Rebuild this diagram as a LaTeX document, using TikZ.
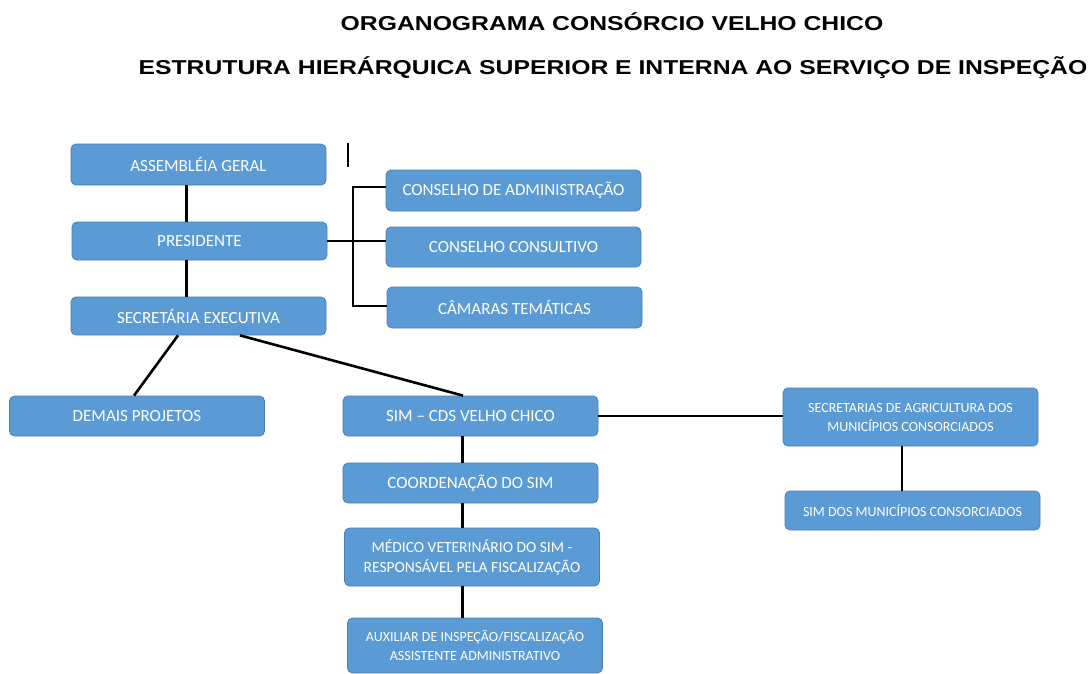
\documentclass[tikz,border=0pt]{standalone}
\usepackage{fontspec}
\setmainfont{Carlito}
\newfontfamily\titlefont{Liberation Sans}
\definecolor{boxBlue}{HTML}{5B9BD5}
\definecolor{boxEdge}{HTML}{4A7FB5}
\newcommand{\titlewide}[1]{\scalebox{1.23}[1]{#1}}
\begin{document}
\begin{tikzpicture}
[x=1pt,y=-1pt,%
  boxDecorate/.style={shape=rectangle,rounded corners=5pt,draw=boxEdge,line width=0.8pt,
    fill=boxBlue,text=white,minimum width=255pt,inner sep=0pt,align=center,
    font=\fontsize{17}{20}\selectfont},%
  smallDecorate/.style={boxDecorate,font=\fontsize{14}{19}\selectfont},%
  lineDecorate/.style={-,line width=2.6pt},%
  titleDecorate/.style={font=\titlefont\bfseries\fontsize{20.1}{24}\selectfont}]
\useasboundingbox (0,0) rectangle (1091,673);
%% titles
\node (titleA) at (612,22) [titleDecorate] {\titlewide{ORGANOGRAMA CONSÓRCIO VELHO CHICO}};
\node (titleB) at (613,68) [titleDecorate] {\titlewide{ESTRUTURA HIERÁRQUICA SUPERIOR E INTERNA AO SERVIÇO DE INSPEÇÃO}};
%% boxes
\foreach \nodename/\x/\y/\h/\boxtext in {
  assembleia/198.5/164.5/41/{ASSEMBLÉIA GERAL},
  presidente/199.5/241/38/{PRESIDENTE},
  secretaria/198.5/316/38/{SECRETÁRIA EXECUTIVA},
  conselhoAdm/513.5/190.5/41/{CONSELHO DE ADMINISTRAÇÃO},
  conselhoCons/513.5/247/40/{CONSELHO CONSULTIVO},
  camaras/514.5/307.5/41/{CÂMARAS TEMÁTICAS},
  demais/137/416/40/{DEMAIS PROJETOS},
  simCds/470.5/416/40/{SIM – CDS VELHO CHICO},
  coordenacao/470.5/483/40/{COORDENAÇÃO DO SIM}}
{
  \node (\nodename) at (\x,\y) [boxDecorate,minimum height=\h pt] {\boxtext};
}
\node (medico) at (472,557) [boxDecorate,minimum height=58pt,
  font=\fontsize{15.5}{20}\selectfont] {MÉDICO VETERINÁRIO DO SIM -\\RESPONSÁVEL PELA FISCALIZAÇÃO};
\node (auxiliar) at (475,645.5) [smallDecorate,minimum height=55pt]
  {AUXILIAR DE INSPEÇÃO/FISCALIZAÇÃO\\ASSISTENTE ADMINISTRATIVO};
\node (secretarias) at (910.5,417) [smallDecorate,minimum height=58pt]
  {SECRETARIAS DE AGRICULTURA DOS\\MUNICÍPIOS CONSORCIADOS};
\node (simMun) at (912.5,510.5) [smallDecorate,minimum height=39pt]
  {SIM DOS MUNICÍPIOS CONSORCIADOS};
%% stray mark
\draw[line width=1.4pt] (348,143) -- (348,167);
%% edges or lines
\coordinate (bracket) at (353,241);
\draw[lineDecorate] ([xshift=-12pt]assembleia.south) -- ([xshift=-12pt]assembleia.south |- presidente.north);
\draw[lineDecorate] ([xshift=-13pt]presidente.south) -- ([xshift=-13pt]presidente.south |- secretaria.north);
\draw[lineDecorate] (presidente.east) -- (presidente.east -| conselhoCons.west);
\draw[lineDecorate] ([yshift=3.5pt]conselhoAdm.west) -| (bracket) |- ([yshift=1.5pt]camaras.west);
\draw[lineDecorate] ([xshift=-20.5pt]secretaria.south) -- ([xshift=-3pt]demais.north);
\draw[lineDecorate] ([xshift=41.5pt]secretaria.south) -- ([xshift=-7.5pt]simCds.north);
\draw[lineDecorate] (simCds.east) -- (simCds.east -| secretarias.west);
\draw[lineDecorate] ([xshift=-8.5pt]secretarias.south) -- ([xshift=-8.5pt]secretarias.south |- simMun.north);
\foreach \startnode/\endnode in {simCds/coordenacao, coordenacao/medico, medico/auxiliar}
{
  \draw[lineDecorate] ([xshift=-8pt]simCds.south |- \startnode.south) -- ([xshift=-8pt]simCds.south |- \endnode.north);
}
\end{tikzpicture}
\end{document}
